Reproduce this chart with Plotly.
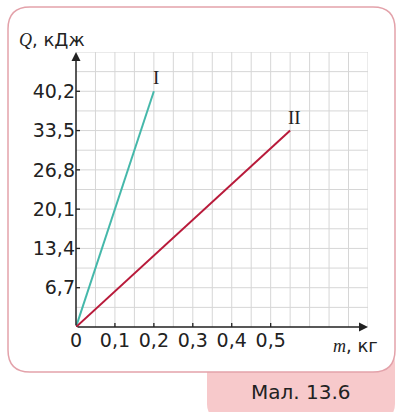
import plotly.graph_objects as go

# data
mass_I = [0, 0.2]
heat_I = [0, 40.2]
mass_II = [0, 0.55]
heat_II = [0, 33.5]

x_tick_vals = [0, 0.1, 0.2, 0.3, 0.4, 0.5]
x_tick_text = ['0', '0,1', '0,2', '0,3', '0,4', '0,5']
y_tick_vals = [6.7, 13.4, 20.1, 26.8, 33.5, 40.2]
y_tick_text = ['6,7', '13,4', '20,1', '26,8', '33,5', '40,2']

X_MAX, Y_MAX = 0.75, 46.9
X_STEP, Y_STEP = 0.05, 3.35

W, H = 400, 412
SANS = 'DejaVu Sans'
SERIF = 'Liberation Serif'
INK = '#222222'


def rounded_rect(x0, y0, x1, y1, r):
    # pixel coords from top-left, converted to bottom-up pixel offsets
    y0, y1 = H - y0, H - y1
    return (f'M {x0 + r},{y0} L {x1 - r},{y0} Q {x1},{y0} {x1},{y0 - r} '
            f'L {x1},{y1 + r} Q {x1},{y1} {x1 - r},{y1} L {x0 + r},{y1} '
            f'Q {x0},{y1} {x0},{y1 + r} L {x0},{y0 - r} Q {x0},{y0} {x0 + r},{y0} Z')


fig = go.Figure()
fig.add_trace(go.Scatter(x=mass_I, y=heat_I, mode='lines',
                         line=dict(color='#45b8aa', width=2), showlegend=False))
fig.add_trace(go.Scatter(x=mass_II, y=heat_II, mode='lines',
                         line=dict(color='#b81a3a', width=2), showlegend=False))

shapes = [
    dict(type='path', xref='paper', yref='paper', xsizemode='pixel', ysizemode='pixel',
         xanchor=0, yanchor=0, path=rounded_rect(207, 350, 395, 418, 14),
         fillcolor='#f7c9cb', line=dict(width=0), layer='below'),
    dict(type='path', xref='paper', yref='paper', xsizemode='pixel', ysizemode='pixel',
         xanchor=0, yanchor=0, path=rounded_rect(8, 7, 395, 372, 22),
         fillcolor='white', line=dict(color='#e3a2aa', width=1.5), layer='below'),
]
# grid
n_x = round(X_MAX / X_STEP)
n_y = round(Y_MAX / Y_STEP)
for i in range(1, n_x + 1):
    shapes.append(dict(type='line', xref='x', yref='y', x0=i * X_STEP, x1=i * X_STEP,
                       y0=0, y1=Y_MAX, line=dict(color='#d6d6d6', width=1), layer='below'))
for j in range(1, n_y + 1):
    shapes.append(dict(type='line', xref='x', yref='y', x0=0, x1=X_MAX,
                       y0=j * Y_STEP, y1=j * Y_STEP, line=dict(color='#d6d6d6', width=1), layer='below'))
# tick marks crossing the axes
for v in x_tick_vals[1:]:
    shapes.append(dict(type='line', xref='x', yref='y', ysizemode='pixel', yanchor=0,
                       x0=v, x1=v, y0=-4, y1=4, line=dict(color=INK, width=1.3)))
for v in y_tick_vals:
    shapes.append(dict(type='line', xref='x', yref='y', xsizemode='pixel', xanchor=0,
                       y0=v, y1=v, x0=-4, x1=4, line=dict(color=INK, width=1.3)))

annotations = [
    # axis arrows
    dict(x=X_MAX, y=0, ax=0, ay=0, xref='x', yref='y', axref='x', ayref='y', text='',
         showarrow=True, arrowhead=2, arrowsize=1.2, arrowwidth=1.5, arrowcolor=INK),
    dict(x=0, y=Y_MAX, ax=0, ay=0, xref='x', yref='y', axref='x', ayref='y', text='',
         showarrow=True, arrowhead=2, arrowsize=1.2, arrowwidth=1.5, arrowcolor=INK),
    # line labels
    dict(x=mass_I[-1], y=heat_I[-1], xref='x', yref='y', text='I', showarrow=False,
         yanchor='bottom', yshift=1, xshift=2, font=dict(family=SERIF, size=19, color=INK)),
    dict(x=mass_II[-1], y=heat_II[-1], xref='x', yref='y', text='II', showarrow=False,
         yanchor='bottom', yshift=1, xshift=4, font=dict(family=SERIF, size=19, color=INK)),
    # axis titles
    dict(x=52 / W, y=1 - 40 / H, xref='paper', yref='paper', showarrow=False,
         xanchor='center', yanchor='middle',
         text=f'<i><span style="font-family:{SERIF}">Q</span></i>, кДж',
         font=dict(family=SANS, size=18, color=INK)),
    dict(x=355 / W, y=1 - 345 / H, xref='paper', yref='paper', showarrow=False,
         xanchor='center', yanchor='middle',
         text=f'<i><span style="font-family:{SERIF}">m</span></i>, кг',
         font=dict(family=SANS, size=18, color=INK)),
    # caption
    dict(x=301 / W, y=1 - 392 / H, xref='paper', yref='paper', showarrow=False,
         xanchor='center', yanchor='middle',
         text='Мал. 13.6', font=dict(family=SANS, size=20, color=INK)),
]

fig.update_layout(
    template='none',
    width=W, height=H,
    margin=dict(l=0, r=0, t=0, b=0, pad=0),
    paper_bgcolor='white', plot_bgcolor='rgba(0,0,0,0)',
    shapes=shapes, annotations=annotations,
    xaxis=dict(domain=[76 / W, 368 / W], range=[0, X_MAX], automargin=False,
               tickvals=x_tick_vals, ticktext=x_tick_text, ticks='',
               showgrid=False, zeroline=False, showline=False,
               tickfont=dict(family=SANS, size=19, color=INK)),
    yaxis=dict(domain=[1 - 327 / H, 1 - 52 / H], range=[0, Y_MAX], automargin=False,
               tickvals=y_tick_vals, ticktext=y_tick_text, ticks='',
               showgrid=False, zeroline=False, showline=False,
               tickfont=dict(family=SANS, size=19, color=INK)),
)

fig.write_html('out.html', config={'displayModeBar': False},
               post_script="document.body.style.margin = '0';")
